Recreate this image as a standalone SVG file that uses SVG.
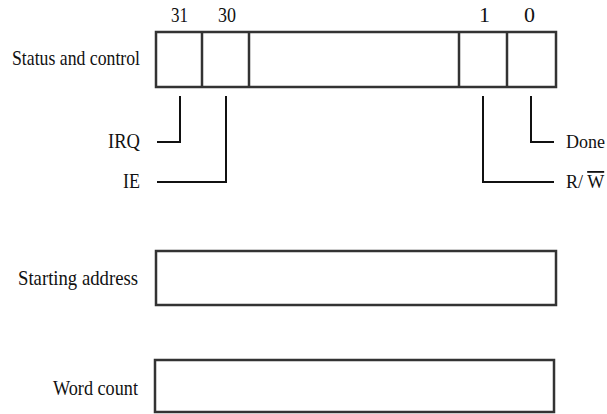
<svg xmlns="http://www.w3.org/2000/svg" width="607" height="414" viewBox="0 0 607 414">
<style>
.box{fill:none;stroke:#333;stroke-width:2.5}
.wire{fill:none;stroke:#111;stroke-width:2}
text{font-family:"Liberation Serif","Times New Roman",serif;font-size:22px;fill:#111}
.r{text-anchor:end}
.sm{font-size:18px}
</style>
<rect width="607" height="414" fill="#fff"/>
<g id="status-control">
<rect class="box" x="156" y="32" width="400" height="55"/>
<line class="box" x1="202" y1="32" x2="202" y2="87"/>
<line class="box" x1="249" y1="32" x2="249" y2="87"/>
<line class="box" x1="459" y1="32" x2="459" y2="87"/>
<line class="box" x1="507" y1="32" x2="507" y2="87"/>
<text class="r" x="140" y="65" textLength="128" lengthAdjust="spacingAndGlyphs">Status and control</text>
<text x="171" y="22" textLength="17" lengthAdjust="spacingAndGlyphs">31</text>
<text x="218" y="22" textLength="18" lengthAdjust="spacingAndGlyphs">30</text>
<text x="479" y="22">1</text>
<text x="524" y="22">0</text>
</g>
<g id="connectors">
<polyline class="wire" points="180,96 180,142 157,142"/>
<polyline class="wire" points="226,96 226,182 157,182"/>
<polyline class="wire" points="531,96 531,142 554,142"/>
<polyline class="wire" points="483,96 483,182 554,182"/>
</g>
<g id="irq"><text class="r" x="140" y="148" textLength="32" lengthAdjust="spacingAndGlyphs">IRQ</text></g>
<g id="ie"><text class="r" x="140" y="188" textLength="17" lengthAdjust="spacingAndGlyphs">IE</text></g>
<g id="done"><text class="sm" x="566" y="148">Done</text></g>
<g id="rw"><text class="sm" x="566" y="188">R/ <tspan text-decoration="overline">W</tspan></text></g>
<g id="starting-address">
<rect class="box" x="156" y="251" width="400" height="54"/>
<text class="r" x="138" y="285" textLength="120" lengthAdjust="spacingAndGlyphs">Starting address</text>
</g>
<g id="word-count">
<rect class="box" x="155" y="360" width="399" height="52"/>
<text class="r" x="138" y="395" textLength="85" lengthAdjust="spacingAndGlyphs">Word count</text>
</g>
</svg>
